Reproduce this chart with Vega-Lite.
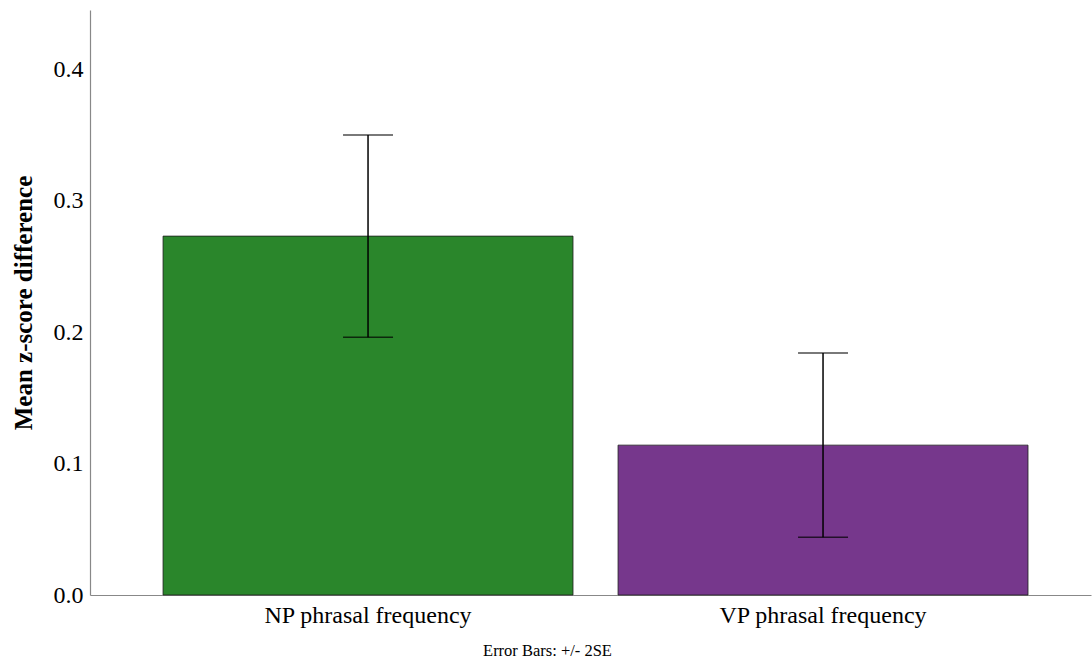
{
  "$schema": "https://vega.github.io/schema/vega-lite/v6.json",
  "width": 1001,
  "height": 585,
  "autosize": "none",
  "padding": {"left": 90, "top": 10, "right": 1, "bottom": 69},
  "background": "white",
  "config": {
    "view": {"stroke": null},
    "font": "Liberation Serif"
  },
  "data": {
    "values": [
      {"category": "NP phrasal frequency", "mean": 0.273, "lo": 0.196, "hi": 0.350},
      {"category": "VP phrasal frequency", "mean": 0.114, "lo": 0.044, "hi": 0.184}
    ]
  },
  "encoding": {
    "x": {
      "field": "category",
      "type": "nominal",
      "sort": null,
      "scale": {"paddingInner": 0.099, "paddingOuter": 0.1495, "align": 0.537},
      "axis": {
        "title": "Error Bars: +/- 2SE",
        "titleFont": "Liberation Serif",
        "titleFontSize": 16.5,
        "titleFontWeight": "normal",
        "titleColor": "black",
        "titleX": 457,
        "titleY": 60,
        "titleBaseline": "alphabetic",
        "labelAngle": 0,
        "labelFont": "Liberation Serif",
        "labelFontSize": 24,
        "labelColor": "black",
        "labelPadding": 8,
        "labelLimit": 0,
        "ticks": false,
        "domainColor": "#888888",
        "domainWidth": 1.2
      }
    }
  },
  "layer": [
    {
      "mark": {"type": "bar", "stroke": "#1e1e1e", "strokeWidth": 1, "strokeOpacity": 0.8},
      "encoding": {
        "y": {
          "field": "mean",
          "type": "quantitative",
          "scale": {"domain": [0, 0.445], "nice": false},
          "axis": {
            "title": "Mean z-score difference",
            "titleFont": "Liberation Serif",
            "titleFontSize": 25,
            "titleFontWeight": "bold",
            "titleColor": "black",
            "titlePadding": 17,
            "values": [0, 0.1, 0.2, 0.3, 0.4],
            "format": ".1f",
            "labelFont": "Liberation Serif",
            "labelFontSize": 24,
            "labelColor": "black",
            "labelPadding": 7,
            "ticks": false,
            "grid": false,
            "domainColor": "#888888",
            "domainWidth": 1.2
          }
        },
        "color": {
          "field": "category",
          "type": "nominal",
          "scale": {"domain": ["NP phrasal frequency", "VP phrasal frequency"], "range": ["#2a862b", "#76378c"]},
          "legend": null
        }
      }
    },
    {
      "mark": {"type": "rule", "color": "black", "strokeWidth": 1.5},
      "encoding": {
        "y": {"field": "lo", "type": "quantitative"},
        "y2": {"field": "hi"}
      }
    },
    {
      "mark": {"type": "tick", "color": "black", "thickness": 1.5, "size": 50, "orient": "horizontal"},
      "encoding": {
        "y": {"field": "lo", "type": "quantitative"}
      }
    },
    {
      "mark": {"type": "tick", "color": "black", "thickness": 1.5, "size": 50, "orient": "horizontal"},
      "encoding": {
        "y": {"field": "hi", "type": "quantitative"}
      }
    }
  ]
}
